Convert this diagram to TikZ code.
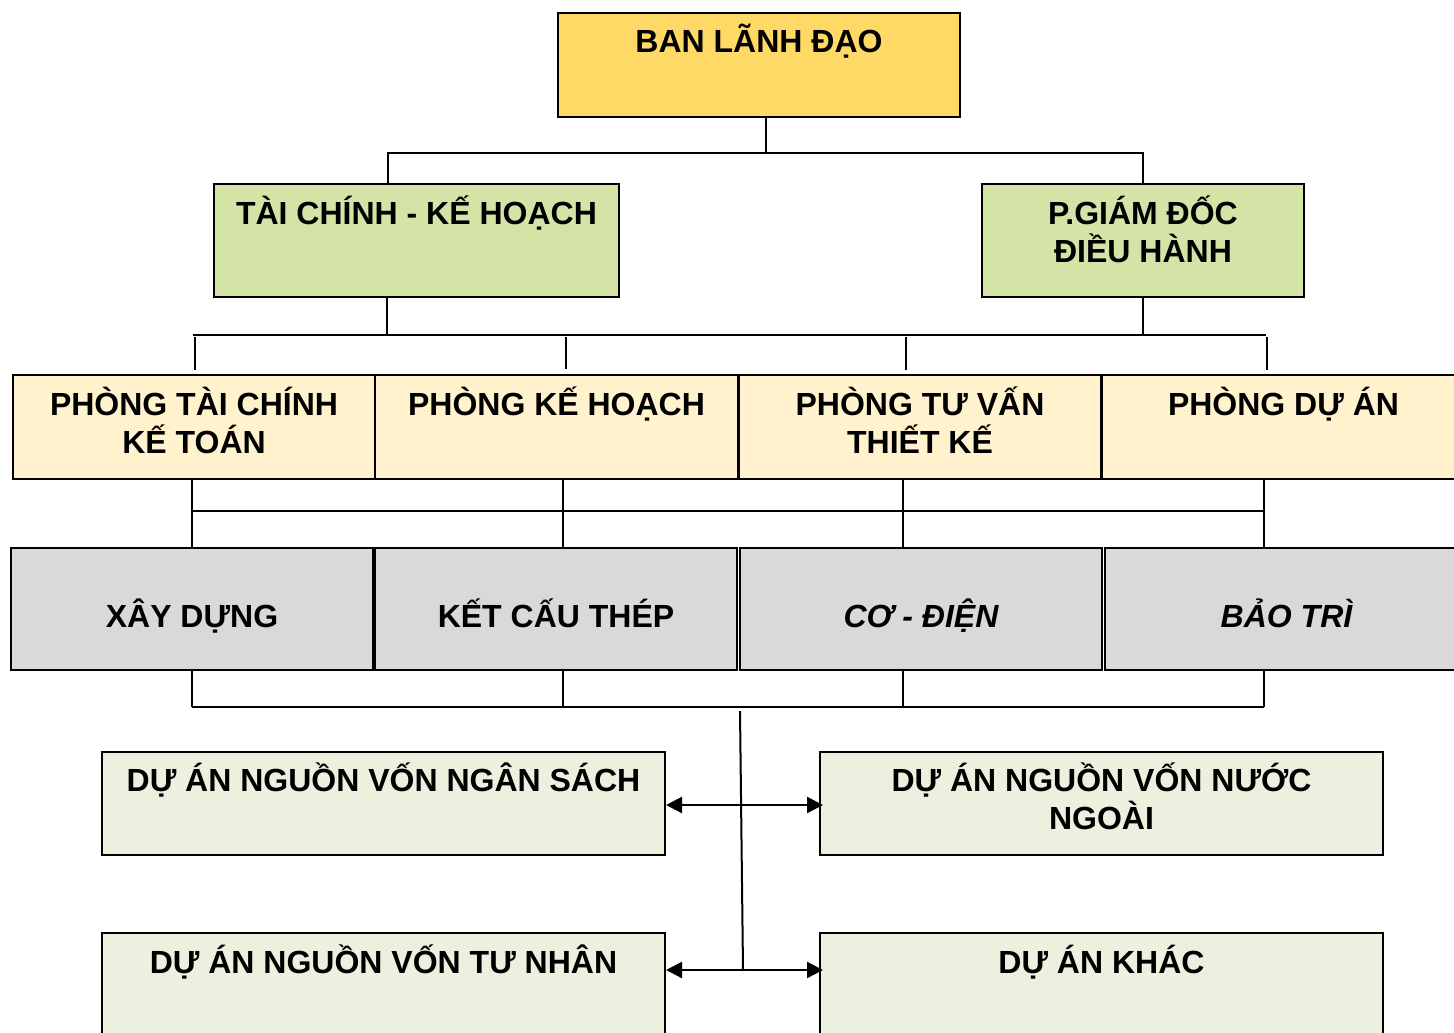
\documentclass[tikz,border=0pt]{standalone}
\usepackage{fontspec}
\setmainfont{Liberation Sans}
\usetikzlibrary{arrows.meta}
\definecolor{cTop}{HTML}{FFD966}
\definecolor{cMid}{HTML}{D3E4A6}
\definecolor{cDep}{HTML}{FFF2CC}
\definecolor{cGrey}{HTML}{D9D9D9}
\definecolor{cProj}{HTML}{EBF1DE}
\begin{document}
\begin{tikzpicture}[x=0.5pt,y=-0.5pt,
  box/.style={draw=black, line width=1pt, rectangle, inner sep=0pt},
  txt/.style={font=\fontsize{16}{19}\selectfont\bfseries, align=center, anchor=base, inner sep=0pt},
  conn/.style={line width=1pt},
  arr/.style={line width=1.1pt, {Triangle[length=8pt,width=8pt]}-{Triangle[length=8pt,width=8pt]}}]
\useasboundingbox (0,0) rectangle (1454,1032);
% level 1
\node[box, fill=cTop, minimum width=201pt, minimum height=52pt] (A) at (759,65) {};
\node[txt] (tA) at ([yshift=-20.5pt]A.north) {BAN LÃNH ĐẠO};
% level 2
\node[box, fill=cMid, minimum width=202.5pt, minimum height=56.5pt] (B) at (416.5,240.5) {};
\node[txt] (tB) at ([yshift=-21pt]B.north) {TÀI CHÍNH - KẾ HOẠCH};
\node[box, fill=cMid, minimum width=161pt, minimum height=56.5pt] (C) at (1143,240.5) {};
\node[txt] (tC) at ([yshift=-40pt]C.north) {P.GIÁM ĐỐC\\ĐIỀU HÀNH};
% level 3
\node[box, fill=cDep, minimum width=181pt, minimum height=52pt] (D1) at (194,427) {};
\node[box, fill=cDep, minimum width=181.5pt, minimum height=52pt] (D2) at (556.5,427) {};
\node[box, fill=cDep, minimum width=181pt, minimum height=52pt] (D3) at (920,427) {};
\node[box, fill=cDep, minimum width=181.5pt, minimum height=52pt] (D4) at (1283.5,427) {};
\node[txt] (tD1) at ([yshift=-39.5pt]D1.north) {PHÒNG TÀI CHÍNH\\KẾ TOÁN};
\node[txt] (tD2) at ([yshift=-20.5pt]D2.north) {PHÒNG KẾ HOẠCH};
\node[txt] (tD3) at ([yshift=-39.5pt]D3.north) {PHÒNG TƯ VẤN\\THIẾT KẾ};
\node[txt] (tD4) at ([yshift=-20.5pt]D4.north) {PHÒNG DỰ ÁN};
% level 4
\node[box, fill=cGrey, minimum width=181pt, minimum height=61pt] (E1) at (192,609) {};
\node[box, fill=cGrey, minimum width=181pt, minimum height=61pt] (E2) at (556,609) {};
\node[box, fill=cGrey, minimum width=181pt, minimum height=61pt] (E3) at (921,609) {};
\node[box, fill=cGrey, minimum width=181.5pt, minimum height=61pt] (E4) at (1286.5,609) {};
\node[txt] (tE1) at ([yshift=-9.25pt]E1.center) {XÂY DỰNG};
\node[txt] (tE2) at ([yshift=-9.25pt]E2.center) {KẾT CẤU THÉP};
\node[txt, font=\fontsize{16}{19}\selectfont\bfseries\itshape] (tE3) at ([yshift=-9.25pt]E3.center) {CƠ - ĐIỆN};
\node[txt, font=\fontsize{16}{19}\selectfont\bfseries\itshape] (tE4) at ([yshift=-9.25pt]E4.center) {BẢO TRÌ};
% projects
\node[box, fill=cProj, minimum width=281.5pt, minimum height=51.5pt] (F1) at (383.5,803.5) {};
\node[box, fill=cProj, minimum width=281.5pt, minimum height=51.5pt] (F2) at (1101.5,803.5) {};
\node[box, fill=cProj, minimum width=281.5pt, minimum height=54pt] (G1) at (383.5,987) {};
\node[box, fill=cProj, minimum width=281.5pt, minimum height=54pt] (G2) at (1101.5,987) {};
\node[txt] (tF1) at ([yshift=-20pt]F1.north) {DỰ ÁN NGUỒN VỐN NGÂN SÁCH};
\node[txt] (tF2) at ([yshift=-39pt]F2.north) {DỰ ÁN NGUỒN VỐN NƯỚC\\NGOÀI};
\node[txt] (tG1) at ([yshift=-20.5pt]G1.north) {DỰ ÁN NGUỒN VỐN TƯ NHÂN};
\node[txt] (tG2) at ([yshift=-20.5pt]G2.north) {DỰ ÁN KHÁC};
% connectors level 1 -> 2
\coordinate (busA) at (766,153);
\draw[conn] (A.south -| busA) -- (busA);
\draw[conn] ([xshift=-14.25pt]B.north) |- (busA) -| (C.north);
% level 2 -> 3
\coordinate (bL) at (193,335);
\coordinate (bR) at (1266,335);
\draw[conn] (bL) -- (bR);
\draw[conn] ([xshift=-14.75pt]B.south) -- ([xshift=-14.75pt]B.south |- bL);
\draw[conn] (C.south) -- (C.south |- bL);
\draw[conn] ([xshift=0.5pt,yshift=-1pt]D1.north |- bL) -- ([xshift=0.5pt,yshift=2pt]D1.north);
\draw[conn] ([xshift=4.75pt,yshift=-1pt]D2.north |- bL) -- ([xshift=4.75pt,yshift=2.5pt]D2.north);
\draw[conn] ([xshift=-7pt,yshift=-1pt]D3.north |- bL) -- ([xshift=-7pt,yshift=2pt]D3.north);
\draw[conn] ([xshift=-8.25pt,yshift=-1pt]D4.north |- bL) -- ([xshift=-8.25pt,yshift=2pt]D4.north);
% level 3 -> 4
\coordinate (cL) at (192,511);
\coordinate (cR) at (1264,511);
\draw[conn] (cL) -- (cR);
\draw[conn] ([xshift=-1pt]D1.south) -- (E1.north);
\draw[conn] ([xshift=3.25pt]D2.south) -- ([xshift=3.5pt]E2.north);
\draw[conn] ([xshift=-8.5pt]D3.south) -- ([xshift=-9pt]E3.north);
\draw[conn] ([xshift=-9.75pt]D4.south) -- ([xshift=-11.25pt]E4.north);
% level 4 -> bus
\coordinate (eL) at (192,707);
\coordinate (eR) at (1264,707);
\draw[conn] (eL) -- (eR);
\draw[conn] (E1.south) -- (E1.south |- eL);
\draw[conn] ([xshift=3.5pt]E2.south) -- ([xshift=3.5pt]E2.south |- eL);
\draw[conn] ([xshift=-9pt]E3.south) -- ([xshift=-9pt]E3.south |- eL);
\draw[conn] ([xshift=-11.25pt]E4.south) -- ([xshift=-11.25pt]E4.south |- eL);
% trunk and arrows
\coordinate (tr1) at (740,711);
\coordinate (tr2) at (743,970);
\draw[conn] (tr1) -- (tr2);
\draw[arr] ([yshift=-0.75pt]F1.east) -- ([yshift=-0.75pt,xshift=2pt]F2.west);
\draw[arr] ([yshift=8.5pt]G1.east) -- ([yshift=8.5pt,xshift=2pt]G2.west);
\end{tikzpicture}
\end{document}
